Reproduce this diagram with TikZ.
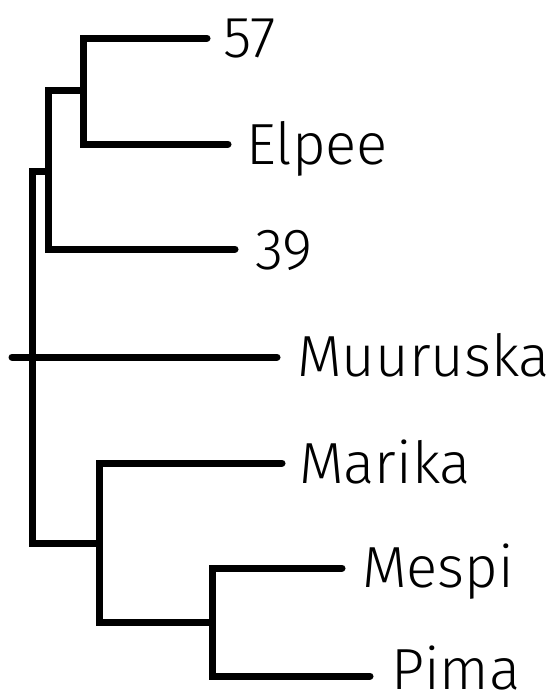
\documentclass[tikz,border=0pt]{standalone}
\usepackage{fontspec}
\setmainfont{Fira Sans}[UprightFont=* Light]
\begin{document}
\begin{tikzpicture}[x=1pt,y=-1pt,
  branch/.style={line width=7pt,line cap=round,line join=miter},
  lbl/.style={anchor=base west,inner sep=0pt,font=\fontsize{58}{64}\selectfont}]
\useasboundingbox (0,0) rectangle (554,696);
% leaf ends and junctions
\coordinate (l57) at (207,38);
\coordinate (lElpee) at (228,144);
\coordinate (l39) at (235,249);
\coordinate (lMuuruska) at (277,357);
\coordinate (stub) at (12,357);
\coordinate (lMarika) at (282,463);
\coordinate (lMespi) at (342,568);
\coordinate (lPima) at (370,676);
\coordinate (j2) at (83,90);
\coordinate (j1) at (48,171);
\coordinate (rtop) at (32,171);
\coordinate (rbot) at (32,543);
\coordinate (j3) at (99,543);
\coordinate (j4) at (212,622);
% branches
\draw[branch] (l57) -| (j2) |- (lElpee);
\draw[branch] (j2) -| (j1) |- (l39);
\draw[branch] (j1) -- (rtop) -- (rbot) -- (j3);
\draw[branch] (stub) -- (lMuuruska);
\draw[branch] (lMarika) -| (j3) |- (j4);
\draw[branch] (lMespi) -| (j4) |- (lPima);
% labels
\node[lbl] (t57) at (223,57) {57};
\node[lbl] (tElpee) at (246,164) {Elpee};
\node[lbl] (t39) at (255,269) {39};
\node[lbl] (tMuuruska) at (297,376) {Muuruska};
\node[lbl] (tMarika) at (299,483) {Marika};
\node[lbl] (tMespi) at (362,587) {Mespi};
\node[lbl] (tPima) at (391,689) {Pima};
\end{tikzpicture}
\end{document}
